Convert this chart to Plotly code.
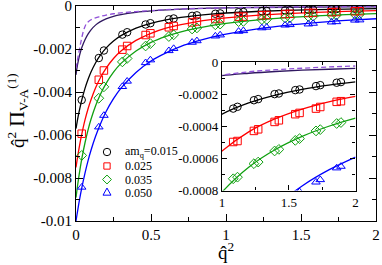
import plotly.graph_objects as go

# ---------------- data ----------------
X_CURVE = [0, 0.005, 0.01, 0.02, 0.03, 0.04, 0.06, 0.08, 0.10, 0.13, 0.16, 0.20, 0.25,
           0.30, 0.40, 0.50, 0.60, 0.70, 0.80, 0.90, 1.0, 1.2, 1.4, 1.6, 1.8, 2.0]

FIT_015 = [-0.00570, -0.00550, -0.00530, -0.00494, -0.00462, -0.00433, -0.00383, -0.00342,
           -0.00307, -0.00265, -0.00231, -0.00196, -0.00163, -0.00138, -0.00103, -0.000805,
           -0.000648, -0.000532, -0.000445, -0.000378, -0.000325, -0.000255, -0.000206,
           -0.000170, -0.000144, -0.000124]
FIT_025 = [-0.00751, -0.00727, -0.00705, -0.00663, -0.00625, -0.00591, -0.00530, -0.00479,
           -0.00436, -0.00381, -0.00337, -0.00290, -0.00244, -0.00209, -0.00160, -0.00127,
           -0.00103, -0.000864, -0.000735, -0.000634, -0.000554, -0.000435, -0.000353,
           -0.000293, -0.000248, -0.000214]
FIT_035 = [-0.00891, -0.00864, -0.00837, -0.00789, -0.00745, -0.00705, -0.00636, -0.00577,
           -0.00527, -0.00465, -0.00415, -0.00361, -0.00308, -0.00267, -0.00209, -0.00169,
           -0.00141, -0.00120, -0.00104, -0.000913, -0.000810, -0.000655, -0.000545,
           -0.000463, -0.000400, -0.000350]
FIT_050 = [-0.01000, -0.00978, -0.00956, -0.00914, -0.00876, -0.00841, -0.00777, -0.00720,
           -0.00671, -0.00607, -0.00553, -0.00492, -0.00431, -0.00382, -0.00309, -0.00256,
           -0.00218, -0.00188, -0.00165, -0.00146, -0.001307, -0.001071, -0.000901,
           -0.000772, -0.000672, -0.000592]
FIT_CHIRAL = [-0.00320, -0.00295, -0.00274, -0.00240, -0.00213, -0.00191, -0.00157, -0.00131,
              -0.00111, -0.00089, -0.00074, -0.00060, -0.00048, -0.00040, -0.000295, -0.000228,
              -0.000180, -0.000145, -0.000119, -0.000100, -0.000085, -0.000070, -0.000059,
              -0.000051, -0.000045, -0.000040]

DASH_X = [0, 0.005, 0.01, 0.02, 0.03, 0.04, 0.05, 0.06, 0.07, 0.08, 0.10, 0.13, 0.16, 0.20,
          0.25, 0.30, 0.40, 0.50, 0.60, 0.70, 0.80, 0.90, 1.0, 1.2, 1.4, 1.6, 1.8, 2.0]
DASH_Y = [-0.00290, -0.00270, -0.00250, -0.00212, -0.00176, -0.00143, -0.00115, -0.00095,
          -0.00082, -0.00074, -0.00064, -0.00055, -0.00049, -0.00042, -0.00036, -0.00032,
          -0.00026, -0.000212, -0.000172, -0.000140, -0.000115, -0.000097, -0.000082,
          -0.000061, -0.000048, -0.000039, -0.000031, -0.000025]

Q2 = [0.038, 0.152, 0.186, 0.309, 0.341, 0.464, 0.496, 0.619, 0.651, 0.774, 0.806, 0.929,
      0.961, 1.084, 1.116, 1.239, 1.271, 1.394, 1.426, 1.549, 1.581, 1.704, 1.736, 1.859, 1.891]

PI_015 = [-0.00437, -0.00242, -0.00207, -0.00133, -0.00122, -0.00086, -0.00080, -0.00062,
          -0.00058, -0.00046, -0.000435, -0.000362, -0.000345, -0.000290, -0.000279,
          -0.000238, -0.000231, -0.000200, -0.000196, -0.000175, -0.000171, -0.000150,
          -0.000144, -0.000129, -0.000125]
PI_025 = [-0.00594, -0.00343, -0.00300, -0.00203, -0.00186, -0.00135, -0.00127, -0.00099,
          -0.00093, -0.000765, -0.000720, -0.000605, -0.000580, -0.000498, -0.000492,
          -0.000429, -0.000419, -0.000373, -0.000363, -0.000325, -0.000317, -0.000290,
          -0.000280, -0.000248, -0.000244]
PI_035 = [-0.00695, -0.00429, -0.00376, -0.00260, -0.00244, -0.00186, -0.00175, -0.00142,
          -0.00134, -0.00107, -0.00102, -0.000875, -0.000842, -0.000727, -0.000717,
          -0.000633, -0.000623, -0.000554, -0.000544, -0.000488, -0.000477, -0.000429,
          -0.000421, -0.000383, -0.000377]
PI_050 = [-0.00843, -0.00563, -0.00509, -0.00375, -0.00350, -0.00264, -0.00251, -0.00208,
          -0.00198, -0.00169, -0.00162, -0.00140, -0.00135, -0.00118, -0.00115, -0.00102,
          -0.00099, -0.00089, -0.00087, -0.00084, -0.000808, -0.000748, -0.000733,
          -0.000660, -0.000650]

SERIES_LABELS = ["am<sub>q</sub>=0.015", "0.025", "0.035", "0.050"]

MAIN_XTICKS = [0, 0.5, 1, 1.5, 2]
MAIN_XTICKTEXT = ["0", "0.5", "1", "1.5", "2"]
MAIN_YTICKS = [0, -0.002, -0.004, -0.006, -0.008, -0.01]
MAIN_YTICKTEXT = ["0", "-0.002", "-0.004", "-0.006", "-0.008", "-0.01"]
INSET_XTICKS = [1, 1.5, 2]
INSET_XTICKTEXT = ["1", "1.5", "2"]
INSET_YTICKS = [0, -0.0002, -0.0004, -0.0006, -0.0008]
INSET_YTICKTEXT = ["0", "-0.0002", "-0.0004", "-0.0006", "-0.0008"]

# ---------------- styles / layout constants ----------------
W, H = 382, 265
FONT = "Liberation Serif"
COLORS = ["#000000", "#ff0000", "#10a010", "#0000ff"]
SYMBOLS = ["circle-open", "square-open", "diamond-open", "triangle-up-open"]
CHIRAL_COLOR = "#301860"
DASH_COLOR = "#9050d8"
MARKER_SIZE = 7.5

MAIN_BOX = (76, 376, 6, 221)        # left, right, top, bottom in pixels
INSET_BOX = (222, 355.5, 62, 190.5)
LEG_MARK_X = 107
LEG_TEXT_X = 123
LEG_ROWS = [152, 166, 179.5, 192.5]
LEG_R = 3.7


def xdom(box):
    return [box[0] / W, box[1] / W]


def ydom(box):
    return [1 - box[3] / H, 1 - box[2] / H]


def px(x, y):
    return "%.5f,%.5f" % (x / W, 1 - y / H)


fits = [FIT_015, FIT_025, FIT_035, FIT_050]
pts = [PI_015, PI_025, PI_035, PI_050]

fig = go.Figure()

for xa, ya in (("x", "y"), ("x2", "y2")):
    fig.add_trace(go.Scatter(x=X_CURVE, y=FIT_CHIRAL, mode="lines", xaxis=xa, yaxis=ya,
                             line=dict(color=CHIRAL_COLOR, width=1.3, shape="spline"),
                             hoverinfo="skip"))
    fig.add_trace(go.Scatter(x=DASH_X, y=DASH_Y, mode="lines", xaxis=xa, yaxis=ya,
                             line=dict(color=DASH_COLOR, width=1.3, dash="5px,3px",
                                       shape="spline"),
                             hoverinfo="skip"))
    for i in range(4):
        fig.add_trace(go.Scatter(x=X_CURVE, y=fits[i], mode="lines", xaxis=xa, yaxis=ya,
                                 line=dict(color=COLORS[i], width=1.3, shape="spline"),
                                 hoverinfo="skip"))
    for i in range(4):
        fig.add_trace(go.Scatter(x=Q2, y=pts[i], mode="markers", xaxis=xa, yaxis=ya,
                                 marker=dict(symbol=SYMBOLS[i], size=MARKER_SIZE,
                                             color=COLORS[i],
                                             line=dict(width=1, color=COLORS[i])),
                                 name=SERIES_LABELS[i]))

axis_common = dict(showline=True, linecolor="black", linewidth=1.2, mirror="ticks",
                   ticks="inside", tickcolor="black", tickwidth=1, showgrid=False,
                   zeroline=False, automargin=False, ticklabeloverflow="allow")

fig.update_layout(
    width=W, height=H, margin=dict(l=0, r=0, t=0, b=0),
    paper_bgcolor="white", plot_bgcolor="white", showlegend=False,
    font=dict(family=FONT, color="black"),
    xaxis=dict(axis_common, domain=xdom(MAIN_BOX), range=[0, 2], anchor="y",
               tickmode="array", tickvals=MAIN_XTICKS, ticktext=MAIN_XTICKTEXT, ticklen=7,
               tickfont=dict(family=FONT, size=15, color="black"),
               minor=dict(ticks="inside", ticklen=4, tickwidth=1, tickcolor="black",
                          dtick=0.25, showgrid=False)),
    yaxis=dict(axis_common, domain=ydom(MAIN_BOX), range=[-0.01, 0], anchor="x",
               tickmode="array", tickvals=MAIN_YTICKS, ticktext=MAIN_YTICKTEXT, ticklen=7,
               tickfont=dict(family=FONT, size=15, color="black"),
               minor=dict(ticks="inside", ticklen=4, tickwidth=1, tickcolor="black",
                          dtick=0.001, showgrid=False)),
    xaxis2=dict(axis_common, domain=xdom(INSET_BOX), range=[1, 2], anchor="y2",
                tickmode="array", tickvals=INSET_XTICKS, ticktext=INSET_XTICKTEXT, ticklen=5,
                tickfont=dict(family=FONT, size=13, color="black"),
                minor=dict(ticks="inside", ticklen=3, tickwidth=1, tickcolor="black",
                           dtick=0.25, showgrid=False)),
    yaxis2=dict(axis_common, domain=ydom(INSET_BOX), range=[-0.0008, 0], anchor="x2",
                tickmode="array", tickvals=INSET_YTICKS, ticktext=INSET_YTICKTEXT, ticklen=5,
                tickfont=dict(family=FONT, size=13, color="black"),
                minor=dict(ticks="inside", ticklen=3, tickwidth=1, tickcolor="black",
                           dtick=0.0001, showgrid=False)),
)

# legend key symbols (layout shapes in paper coordinates)
shapes = []
for i in range(4):
    cx, cy, r = LEG_MARK_X, LEG_ROWS[i], LEG_R
    line = dict(color=COLORS[i], width=1)
    if i == 0:
        shapes.append(dict(type="circle", xref="paper", yref="paper",
                           x0=(cx - r) / W, x1=(cx + r) / W,
                           y0=1 - (cy + r) / H, y1=1 - (cy - r) / H, line=line))
    elif i == 1:
        s = r * 0.85
        shapes.append(dict(type="rect", xref="paper", yref="paper",
                           x0=(cx - s) / W, x1=(cx + s) / W,
                           y0=1 - (cy + s) / H, y1=1 - (cy - s) / H, line=line))
    elif i == 2:
        d = r * 1.2
        path = "M%s L%s L%s L%s Z" % (px(cx, cy - d), px(cx + d, cy), px(cx, cy + d),
                                      px(cx - d, cy))
        shapes.append(dict(type="path", xref="paper", yref="paper", path=path, line=line))
    else:
        t = r * 1.2
        path = "M%s L%s L%s Z" % (px(cx, cy - t), px(cx + 0.9 * t, cy + 0.6 * t),
                                  px(cx - 0.9 * t, cy + 0.6 * t))
        shapes.append(dict(type="path", xref="paper", yref="paper", path=path, line=line))
fig.update_layout(shapes=shapes)

annotations = []
for i, lab in enumerate(SERIES_LABELS):
    annotations.append(dict(x=LEG_TEXT_X / W, y=1 - LEG_ROWS[i] / H, xref="paper",
                            yref="paper", text=lab, showarrow=False, xanchor="left",
                            yanchor="middle",
                            font=dict(family=FONT, size=12, color="black")))
annotations.append(dict(x=17 / W, y=1 - 111 / H, xref="paper", yref="paper",
                        text="q\u0302<sup>2</sup> <span style='font-size:22px'>\u03a0</span>"
                             "<sub>V-A</sub><sup>(1)</sup>",
                        showarrow=False, textangle=-90, xanchor="center", yanchor="middle",
                        font=dict(family=FONT, size=19, color="black")))
annotations.append(dict(x=226 / W, y=1 - 251 / H, xref="paper", yref="paper",
                        text="q\u0302<sup>2</sup>", showarrow=False, xanchor="center",
                        yanchor="middle", font=dict(family=FONT, size=19, color="black")))
fig.update_layout(annotations=annotations)

fig.write_html("out.html", config={"displayModeBar": False},
               post_script="document.body.style.margin='0';")
